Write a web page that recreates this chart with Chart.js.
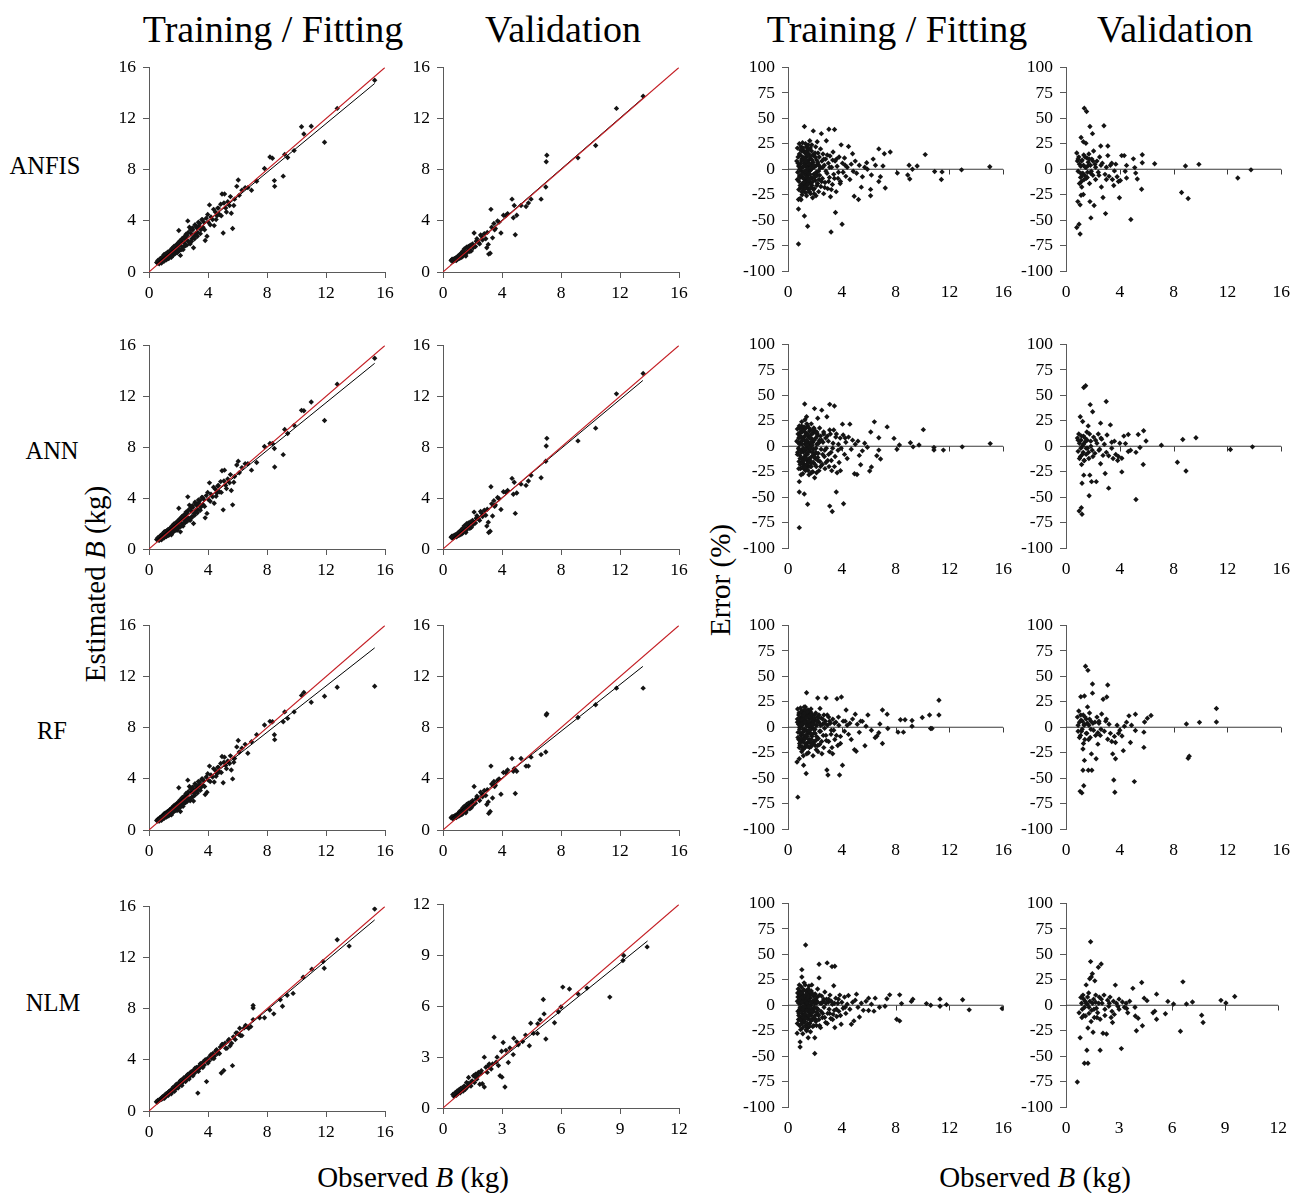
<!DOCTYPE html>
<html>
<head>
<meta charset="utf-8">
<script src="https://cdn.jsdelivr.net/npm/chart.js@4.4.1/dist/chart.umd.min.js"></script>
<style>
html,body{margin:0;padding:0;background:#fff;}
#root{position:relative;width:1309px;height:1193px;overflow:hidden;background:#fff;}
.t{position:absolute;font-family:'Liberation Serif','Times New Roman',serif;color:#000;white-space:nowrap;transform:translate(-50%,-50%);line-height:1;}
.title{font-size:38px;}
.row{font-size:24.5px;}
.ax{font-size:29px;}
.rot{transform:translate(-50%,-50%) rotate(-90deg);}
</style>
</head>
<body>
<div id="root">
  <div class="t title" style="left:273px;top:29px;">Training / Fitting</div>
  <div class="t title" style="left:563px;top:29px;">Validation</div>
  <div class="t title" style="left:897px;top:29px;">Training / Fitting</div>
  <div class="t title" style="left:1175px;top:29px;">Validation</div>
  <div class="t row" style="left:45px;top:166px;">ANFIS</div>
  <div class="t row" style="left:52px;top:451px;">ANN</div>
  <div class="t row" style="left:52px;top:731px;">RF</div>
  <div class="t row" style="left:53px;top:1003px;">NLM</div>
  <div class="t ax rot" style="left:95px;top:584px;">Estimated <i>B</i> (kg)</div>
  <div class="t ax rot" style="left:720px;top:580px;">Error (%)</div>
  <div class="t ax" style="left:413px;top:1177px;">Observed <i>B</i> (kg)</div>
  <div class="t ax" style="left:1035px;top:1177px;">Observed <i>B</i> (kg)</div>
</div>
<script>
// ---------------- DATA ----------------
const scatterTicks16 = [0, 4, 8, 12, 16];
const scatterTicks12 = [0, 3, 6, 9, 12];
const errorTicks = [-100, -75, -50, -25, 0, 25, 50, 75, 100];

// Observed B (kg), training set shared by ANFIS / ANN / RF
const trainObs = [
0.52,0.58,0.63,0.67,0.71,0.74,0.78,0.81,0.83,0.87,0.9,0.92,0.96,0.99,1.01,1.04,1.06,1.09,1.13,1.16,
1.19,1.21,1.24,1.27,1.31,1.33,1.36,1.39,1.43,1.46,1.49,1.52,1.55,1.58,1.61,1.64,1.68,1.71,1.75,1.78,
1.82,1.86,1.9,1.94,1.97,2.02,2.04,2.08,2.13,2.17,2.22,2.27,2.31,2.36,2.42,2.47,2.53,2.58,2.63,2.68,
2.74,2.79,2.86,2.91,2.97,3.02,3.06,3.12,3.18,3.24,
3.31,3.37,3.44,3.52,3.58,3.66,3.72,3.81,3.88,3.93,4.02,4.1,4.2,4.31,4.42,4.5,4.61,4.7,4.78,4.86,
4.95,5.03,5.12,5.2,5.34,5.46,5.58,5.67,5.8,5.95,6.05,6.12,
6.3,6.52,6.7,6.95,7.3,7.83,8.2,8.37,8.5,8.52,9.1,9.2,9.4,9.84,
10.34,10.5,11.0,11.9,12.76,15.3,
0.6,0.69,0.76,0.85,0.94,1.03,1.11,1.18,1.26,1.34,1.41,1.48,1.56,1.63,1.69,1.77,1.84,1.92,1.99,2.06,
2.11,2.19,2.25,2.33,2.39,2.45,2.51,2.56,2.66,2.72,2.83,2.89,2.94,3.09,3.15,3.28,3.35,3.48,3.62,3.77,
3.98,4.15,4.38,4.55,4.66,4.9,5.08,5.25,5.52,5.75];

const anfisTrainEst = [
0.75,0.7,0.85,0.72,0.95,0.8,1.0,0.75,1.1,0.9,1.05,0.82,1.2,1.0,1.35,0.95,1.15,1.4,1.0,1.25,
1.45,1.1,1.35,1.05,1.55,1.25,1.4,1.2,1.65,1.35,1.5,1.15,1.75,1.45,1.6,1.9,1.4,1.8,1.55,2.05,
1.7,1.95,1.5,2.2,1.85,3.25,2.1,1.7,1.3,2.4,2.0,2.6,1.75,2.3,2.7,2.1,2.5,2.85,4.0,2.4,
3.5,2.2,3.0,2.6,3.3,1.9,2.8,3.7,3.0,3.45,
3.1,3.6,3.8,3.3,4.1,3.5,3.9,2.46,4.2,2.8,3.9,5.25,4.3,4.1,3.63,4.7,4.4,5.0,4.5,5.3,
6.1,3.05,6.1,5.0,5.5,5.2,4.6,3.4,5.7,6.7,7.2,6.0,
6.4,6.6,6.6,6.4,7.1,8.1,9.0,8.9,7.15,6.7,7.5,9.2,8.96,9.5,
11.37,10.8,11.4,10.15,12.8,15.0,
0.9,0.65,1.05,0.7,1.2,0.85,1.4,0.95,1.55,1.05,1.65,1.2,1.85,1.3,2.0,1.45,2.1,1.55,2.3,1.7,
2.45,1.75,2.6,1.95,2.75,2.05,2.95,2.1,3.1,2.35,3.3,2.4,3.45,2.6,3.6,2.8,3.9,3.0,4.1,3.3,
4.5,3.7,4.9,4.1,5.0,4.4,5.4,4.7,5.9,5.2];

const annTrainEst = [
0.75,0.72,0.85,0.7,0.95,0.82,1.0,0.78,1.1,0.88,1.05,0.85,1.2,0.98,1.32,0.95,1.15,1.38,1.02,1.25,
1.42,1.1,1.35,1.08,1.52,1.25,1.42,1.18,1.62,1.35,1.48,1.12,1.72,1.45,1.58,1.88,1.42,1.78,1.55,2.02,
1.7,1.95,1.48,2.18,1.85,3.2,2.1,1.72,1.35,2.38,2.0,2.58,1.8,2.3,2.68,2.1,2.48,2.85,4.1,2.4,
3.45,2.25,3.0,2.55,3.28,2.0,2.8,3.68,3.0,3.42,
3.1,3.62,3.8,3.3,4.05,3.5,3.9,2.45,4.2,2.8,3.9,5.2,4.3,4.1,3.6,4.7,4.4,5.0,4.5,5.3,
6.15,3.08,6.2,5.0,5.5,5.2,4.6,3.47,5.7,6.6,6.9,6.0,
6.4,6.7,6.7,6.2,6.8,8.06,8.3,8.3,7.9,6.45,7.42,9.4,9.08,9.72,
10.9,10.87,11.56,10.1,12.96,15.0,
0.88,0.68,1.02,0.72,1.18,0.88,1.36,0.98,1.5,1.08,1.62,1.22,1.8,1.32,1.96,1.48,2.05,1.6,2.25,1.72,
2.4,1.8,2.55,2.0,2.7,2.1,2.9,2.15,3.05,2.4,3.25,2.45,3.4,2.65,3.55,2.85,3.85,3.05,4.05,3.35,
4.45,3.75,4.85,4.15,4.95,4.45,5.35,4.75,5.85,5.25];

const rfTrainEst = [
0.75,0.7,0.82,0.72,0.9,0.8,0.98,0.8,1.05,0.9,1.02,0.88,1.15,1.0,1.25,0.98,1.12,1.32,1.05,1.22,
1.38,1.12,1.3,1.1,1.48,1.28,1.4,1.2,1.58,1.38,1.47,1.18,1.68,1.48,1.57,1.82,1.45,1.75,1.58,1.98,
1.72,1.92,1.52,2.12,1.88,3.3,2.08,1.78,1.45,2.32,2.02,2.55,1.85,2.3,2.62,2.15,2.48,2.8,3.9,2.42,
3.4,2.28,2.95,2.58,3.25,2.26,2.85,3.62,3.02,3.38,
3.15,3.55,3.75,3.32,4.0,3.5,3.85,2.77,4.15,2.95,3.9,5.0,4.3,4.15,3.75,4.65,4.4,4.9,4.55,5.2,
5.75,3.7,5.7,5.05,5.4,5.2,4.7,4.0,5.6,6.5,7.0,6.1,
6.4,6.7,6.0,6.9,7.45,8.22,8.5,8.47,7.45,7.07,8.47,9.24,8.73,9.24,
10.53,10.76,10.0,10.46,11.17,11.25,
0.85,0.7,0.98,0.76,1.12,0.92,1.3,1.02,1.45,1.12,1.58,1.25,1.75,1.38,1.9,1.52,2.0,1.65,2.2,1.78,
2.35,1.85,2.5,2.05,2.65,2.15,2.85,2.2,3.0,2.45,3.2,2.5,3.35,2.7,3.5,2.9,3.8,3.1,4.0,3.4,
4.4,3.8,4.8,4.2,4.9,4.5,5.3,4.8,5.8,5.3];

// Observed B (kg), validation set shared by ANFIS / ANN / RF
const validObs = [
0.55,0.6,0.65,0.7,0.74,0.78,0.82,0.86,0.9,0.95,0.98,1.03,1.08,1.12,1.17,1.22,1.27,1.32,1.38,1.44,
1.5,1.55,1.6,1.66,1.72,1.78,1.85,1.92,2.0,2.11,2.2,2.3,2.42,2.55,2.68,2.8,2.97,3.07,3.1,3.2,
3.25,3.36,3.45,3.55,3.7,3.93,4.1,4.38,4.68,4.77,4.83,4.9,5.0,5.29,5.63,5.79,5.97,6.65,6.97,7.0,
7.04,9.15,10.35,11.76,13.57,
0.62,0.72,0.8,0.88,0.93,1.0,1.06,1.15,1.25,1.35,1.47,1.58,1.7,1.82,1.96,2.05,2.25,2.48,2.62,2.9,
3.0,3.3,3.5,3.8,4.25];

const anfisValidEst = [
0.9,0.95,0.85,1.0,0.9,1.05,0.95,1.1,0.9,1.15,1.0,1.25,1.05,1.35,1.2,1.45,1.15,1.6,1.3,1.8,
1.5,1.25,1.95,1.6,2.0,1.75,2.1,1.65,2.2,3.05,2.0,2.6,2.3,2.9,2.5,3.0,1.9,2.16,1.4,1.47,
4.9,2.67,3.8,3.4,4.0,3.05,4.44,4.57,5.7,4.24,5.2,2.92,4.44,5.2,5.13,5.4,5.7,5.7,6.65,8.63,
9.14,8.93,9.9,12.8,13.76,
1.0,0.85,1.0,0.95,1.1,1.05,1.2,1.1,1.35,1.25,1.55,1.45,1.85,1.6,2.1,1.9,2.4,2.2,2.8,2.6,
3.1,3.5,3.3,3.9,4.4];

const annValidEst = [
0.92,0.98,0.88,1.02,0.92,1.08,0.98,1.12,0.95,1.18,1.02,1.28,1.08,1.38,1.22,1.48,1.18,1.62,1.35,1.82,
1.52,1.3,1.98,1.65,2.05,1.78,2.12,1.7,2.25,2.9,2.05,2.62,2.35,2.95,2.55,3.05,1.8,2.1,1.3,1.4,
4.9,2.6,3.8,3.45,4.05,3.1,4.5,4.6,5.55,4.3,5.25,2.8,4.4,5.1,5.0,5.35,5.8,5.6,6.9,8.1,
8.7,8.5,9.5,12.2,13.8,
1.0,0.88,1.02,0.98,1.12,1.08,1.22,1.12,1.38,1.28,1.58,1.48,1.88,1.62,2.12,1.92,2.42,2.25,2.82,2.65,
3.12,3.55,3.35,3.95,4.45];

const rfValidEst = [
0.95,1.0,0.9,1.05,0.95,1.1,1.0,1.15,0.98,1.2,1.05,1.3,1.1,1.45,1.25,1.5,1.2,1.7,1.4,1.85,
1.6,1.35,2.0,1.7,2.1,1.85,2.15,1.75,2.3,3.4,2.1,2.65,2.4,2.95,2.6,3.1,2.0,2.2,1.3,1.45,
5.0,2.5,3.8,3.5,3.9,2.8,4.5,4.7,5.6,4.6,4.8,2.85,4.6,5.6,5.0,5.0,5.7,5.9,6.1,9.0,
9.1,8.8,9.8,11.1,11.1,
1.05,0.9,1.05,1.0,1.15,1.1,1.25,1.15,1.4,1.3,1.6,1.5,1.9,1.65,2.15,1.95,2.45,2.3,2.85,2.7,
3.15,3.6,3.4,4.0,4.5];

// NLM data sets
const nlmTrainObs = [
0.5,0.56,0.59,0.66,0.71,0.73,0.79,0.84,0.86,0.92,0.95,1.0,1.02,1.08,1.12,1.14,1.2,1.24,1.26,1.33,
1.35,1.41,1.45,1.47,1.54,1.58,1.61,1.67,1.7,1.76,1.81,1.84,1.91,1.94,2.01,2.06,2.09,2.16,2.21,2.25,
2.33,2.37,2.45,2.51,2.55,2.63,2.67,2.76,2.81,2.89,2.94,3.03,3.08,3.17,3.22,3.26,3.31,3.39,3.44,3.53,
3.59,3.69,3.75,3.85,3.9,
3.97,4.06,4.15,4.26,4.33,4.45,4.52,4.64,4.71,4.83,4.9,4.98,5.07,5.15,5.28,5.37,5.5,5.66,5.72,5.85,
5.97,6.08,6.15,6.3,6.45,6.62,6.76,
7.06,7.06,7.06,7.83,8.19,8.46,9.05,9.37,9.77,10.45,11.04,11.8,11.88,12.76,13.57,15.3,
0.62,0.77,0.9,1.05,1.17,1.29,1.38,1.51,1.64,1.73,1.87,1.97,2.12,2.23,2.35,2.48,2.59,2.72,2.85,2.98,
3.12,3.35,3.48,3.65,3.8,4.0,4.2,4.4,4.58,4.78,4.95,5.2,5.42,5.6,5.9,6.2,6.55,6.9,7.5,8.9];

const nlmTrainEst = [
0.72,0.7,0.82,0.8,0.9,0.85,0.95,1.0,0.92,1.1,1.0,1.15,1.05,1.25,1.15,1.3,1.2,1.4,1.3,1.5,
1.4,1.55,1.45,1.6,1.5,1.75,1.6,1.85,1.65,1.95,1.75,2.05,1.85,2.1,1.95,2.25,2.05,2.4,2.15,2.45,
2.3,2.6,2.4,2.7,2.5,2.85,2.6,2.95,2.75,3.05,2.85,3.2,2.95,3.3,3.4,3.15,1.4,3.5,3.35,3.7,
3.5,3.85,3.6,4.0,2.3,
4.1,3.9,4.3,4.1,4.5,4.3,4.7,4.5,4.55,5.0,2.97,5.2,3.17,5.3,4.9,5.5,5.1,3.55,5.8,5.6,
6.1,6.0,6.47,5.9,6.5,6.6,6.47,
8.25,8.05,7.15,7.3,7.9,7.6,8.2,9.06,9.2,10.46,11.1,11.7,11.17,13.4,12.9,15.8,
0.8,0.9,1.1,1.0,1.35,1.2,1.55,1.35,1.85,1.55,2.1,1.8,2.35,2.0,2.55,2.3,2.8,2.5,3.05,2.75,
3.35,3.1,3.7,3.4,4.0,3.75,4.4,4.1,4.8,4.5,5.2,4.9,5.6,5.3,6.1,5.9,6.7,6.6,7.3,8.7];

const nlmValidObs = [
0.5,0.55,0.62,0.68,0.72,0.78,0.83,0.88,0.93,0.98,1.03,1.08,1.14,1.2,1.25,1.3,1.36,1.42,1.48,1.55,
1.6,1.66,1.72,1.8,1.87,1.95,2.0,2.1,2.1,2.18,2.25,2.35,2.45,2.6,2.7,2.82,2.9,2.98,3.0,3.06,
3.15,3.32,3.4,3.57,3.6,3.83,4.05,4.39,4.46,4.6,4.8,4.82,4.94,5.1,5.14,5.23,5.67,5.87,6.0,6.09,
6.43,6.86,7.32,8.48,9.15,9.19,10.38,
0.58,0.75,0.9,1.12,1.28,1.45,1.62,1.78,1.92,2.3,2.52,2.75,3.2,3.75,4.2];

const nlmValidEst = [
0.8,0.7,0.9,0.75,1.0,0.85,1.1,0.9,1.05,1.2,1.0,1.3,1.1,1.5,1.25,1.8,1.4,1.3,1.6,1.9,
1.5,2.0,1.7,2.1,1.4,2.2,1.43,3.0,1.24,2.4,2.1,2.6,2.3,4.17,2.7,2.5,1.9,3.35,1.82,3.86,
1.24,2.68,3.54,3.15,4.11,3.73,3.92,3.67,5.0,4.4,4.4,4.97,5.2,6.4,5.55,4.07,5.03,5.68,5.96,7.13,
7.02,6.73,7.07,6.54,8.7,8.99,9.5,
0.85,0.95,1.15,1.2,1.45,1.55,1.85,1.9,2.05,2.5,2.6,3.0,3.4,3.9,4.3];

// Fitted (black) regression lines, 1:1 (red) lines and zero-error lines: [x, y] end points
const anfisTrainFit = [[0.5,0.65],[15.3,14.75]];
const anfisValidFit = [[0.5,0.55],[13.55,13.6]];
const annTrainFit = [[0.5,0.7],[15.3,14.6]];
const annValidFit = [[0.55,0.7],[13.55,13.25]];
const rfTrainFit = [[0.5,0.85],[15.3,14.25]];
const rfValidFit = [[0.55,0.9],[13.55,12.8]];
const nlmTrainFit = [[0.5,0.65],[15.3,14.95]];
const nlmValidFit = [[0.5,0.6],[10.4,9.85]];
const oneToOne16 = [[0,0],[16,16]];
const oneToOne12 = [[0,0],[12,12]];
const zeroLine16 = [[0,0],[16,0]];
const zeroLine12 = [[0,0],[12,0]];

// Error (%) vs observed B (kg): [observed, error]
const anfisTrainErr = [[0.65,8],[0.7,20.8],[0.72,-3],[0.75,12],[0.78,-29.7],[0.78,-39],[0.78,-73.5],[0.8,3],[0.82,-12],[0.85,15],[0.88,-6],[0.9,-28.8],[0.92,5],[0.95,-18],[0.98,22],[1.0,-2],[1.02,10],[1.05,-25],[1.08,26],[1.1,-8],[1.12,2],[1.15,-15],[1.18,18],[1.2,-22],[1.22,42],[1.22,-46],[1.25,6],[1.28,-10],[1.3,25],[1.32,-4],[1.35,12],[1.38,-26],[1.4,3],[1.42,-14],[1.45,20],[1.46,-56],[1.48,-6],[1.5,9],[1.52,-20],[1.55,15],[1.58,-2],[1.6,-12],[1.62,28],[1.65,4],[1.68,-24],[1.7,10],[1.72,-8],[1.75,18],[1.78,-16],[1.8,1],[1.83,-28],[1.86,7],[1.88,37.7],[1.9,-5],[1.93,14],[1.96,-19],[2.0,3],[2.03,-11],[2.06,22],[2.1,-3],[2.13,9],[2.17,27],[2.2,-14],[2.24,5],[2.28,-22],[2.32,12],[2.36,-6],[2.4,1],[2.44,-17],[2.48,35],[2.52,8],[2.56,-9],[2.6,15],[2.65,-24],[2.7,4],[2.75,-13],[2.8,10],[2.85,28],[2.9,-4],[2.95,-19],[3.0,6],[3.04,39.3],[3.08,-8],[3.12,13],[3.16,-27],[3.2,-61.7],[3.24,2],[3.3,-15],[3.35,17],[3.4,-5],[3.46,39],[3.5,8],[3.53,-42.5],[3.58,-22],[3.65,3],[3.72,-9],[3.8,12],[3.88,-14],[3.95,24],[4.02,-54],[4.05,6],[4.1,-3],[4.2,11],[4.3,-7],[4.4,2],[4.5,22.4],[4.6,-10],[4.7,5],[4.8,15.3],[4.85,-2],[4.92,-26.5],[5.0,8],[5.1,-4],[5.24,-29.7],[5.3,4],[5.45,-17.6],[5.53,-7.3],[5.7,2],[5.85,6.4],[5.9,0],[6.14,-19.8],[6.14,-26],[6.2,-5.7],[6.33,10],[6.5,4],[6.75,20],[6.75,-12],[6.87,-7.3],[7.06,3.2],[7.16,15.3],[7.23,-18.5],[7.6,17],[8.13,-3.8],[8.9,-5.7],[9.0,4],[9.05,-9.6],[9.25,0],[9.6,3.2],[10.2,14.4],[10.9,-2.2],[11.4,-10],[11.45,-2.6],[12.9,-0.6],[15.0,2.5],
[0.7,-10],[0.74,6],[0.8,-20],[0.84,25],[0.87,0],[0.9,14],[0.94,-8],[0.97,-30],[1.0,8],[1.04,18],[1.07,-14],[1.1,12],[1.13,-3],[1.17,-20],[1.2,6],[1.24,-12],[1.27,16],[1.3,-6],[1.34,3],[1.37,22],[1.4,-18],[1.44,8],[1.47,-11],[1.5,24],[1.54,-4],[1.57,6],[1.6,-22],[1.64,12],[1.67,-1],[1.71,-14],[1.74,5],[1.77,24],[1.81,-9],[1.85,14],[1.89,-20],[1.92,2],[1.98,-8],[2.02,12],[2.08,-26],[2.12,4],[2.18,-6],[2.23,16],[2.3,-10],[2.35,3],[2.42,20],[2.5,-12],[2.58,2],[2.66,10],[2.73,-18],[2.82,-2],[2.92,14],[3.02,-12],[3.1,2],[3.22,-20],[3.32,9],[3.45,-9],[3.6,10],[3.75,-3],[3.9,-12],[4.25,4],
[0.82,4],[0.86,-7],[0.9,-16],[0.93,19],[0.97,1],[1.01,-22],[1.03,-5],[1.06,9],[1.09,-18],[1.11,21],[1.14,-9],[1.16,3],[1.19,-13],[1.23,11],[1.26,-2],[1.29,-17],[1.31,8],[1.33,-23],[1.36,17],[1.39,-1],[1.41,-8],[1.43,14],[1.46,1],[1.49,-15],[1.53,19],[1.56,-10],[1.59,5],[1.63,-5],[1.66,21],[1.69,-18],[1.73,2],[1.79,9],[1.84,-12],[1.91,4],[1.95,-24],[2.01,16],[2.07,-4],[2.14,-16],[2.21,7],[2.27,-2]];

const annTrainErr = [[0.65,5],[0.7,17],[0.72,-6],[0.75,12],[0.78,-2],[0.8,8],[0.82,-15],[0.84,-34.8],[0.84,-45],[0.84,-80],[0.86,18],[0.88,-9],[0.9,4],[0.93,-22],[0.96,14],[0.99,-4],[1.02,24],[1.05,-12],[1.08,6],[1.1,-27],[1.12,16],[1.15,-6],[1.18,9],[1.21,-47],[1.22,-18],[1.24,41.5],[1.26,26],[1.28,2],[1.3,-24],[1.33,12],[1.36,-8],[1.38,29],[1.4,-14],[1.43,5],[1.46,-57],[1.46,20],[1.48,-20],[1.5,-2],[1.53,10],[1.56,-28],[1.6,15],[1.63,-5],[1.66,3],[1.7,-17],[1.73,22],[1.76,-10],[1.8,7],[1.84,-25],[1.87,13],[1.9,-3],[1.94,17],[1.97,37],[1.98,-31],[2.02,-12],[2.06,8],[2.1,-20],[2.14,2],[2.18,12],[2.21,27.5],[2.25,-7],[2.3,-24],[2.34,6],[2.38,-15],[2.42,10],[2.46,-3],[2.51,35.5],[2.55,-18],[2.6,4],[2.65,14],[2.7,-10],[2.75,-22],[2.8,8],[2.85,-2],[2.89,29],[2.95,-14],[3.0,5],[3.05,-20],[3.1,41.2],[3.1,-58.8],[3.15,12],[3.2,-6],[3.25,-24],[3.29,-64.2],[3.35,3],[3.4,16],[3.45,39.6],[3.5,-10],[3.55,9],[3.59,-45],[3.65,-26],[3.72,-4],[3.8,-16],[3.88,8],[3.95,-2],[4.05,21.7],[4.1,11],[4.13,-56.5],[4.2,-8],[4.3,4],[4.4,-12],[4.5,9],[4.6,21.7],[4.7,-3],[4.8,6],[4.94,-27],[5.0,2],[5.13,-27.8],[5.2,5],[5.3,-9],[5.4,-18.2],[5.53,-4.5],[5.7,3],[5.9,-1],[6.07,-24.3],[6.15,14],[6.2,-20.4],[6.42,24],[6.6,-9.3],[6.75,8.3],[6.75,-3.8],[6.88,-12.5],[7.37,19],[7.88,7.7],[8.1,-2.9],[8.28,1.3],[9.1,3.5],[9.3,-0.6],[9.74,1.3],[10.06,16.3],[10.85,-1.3],[10.85,-3.8],[11.55,-3.8],[12.95,-0.6],[15.03,2.6],
[0.7,-8],[0.74,4],[0.8,-22],[0.84,20],[0.87,2],[0.9,-12],[0.94,10],[0.97,-28],[1.0,8],[1.04,14],[1.07,-16],[1.1,18],[1.13,-2],[1.17,-22],[1.2,6],[1.24,-10],[1.27,14],[1.3,-4],[1.34,4],[1.37,-18],[1.4,22],[1.44,-8],[1.47,10],[1.5,-24],[1.54,2],[1.57,-12],[1.6,8],[1.64,-20],[1.67,16],[1.71,-2],[1.74,-26],[1.77,12],[1.81,-6],[1.85,4],[1.89,-16],[1.92,18],[1.98,-8],[2.02,14],[2.08,-2],[2.12,-26],[2.18,10],[2.23,-14],[2.3,4],[2.35,18],[2.42,-20],[2.5,6],[2.58,-8],[2.66,12],[2.73,-4],[2.82,-16],[2.92,10],[3.02,-8],[3.1,16],[3.22,-14],[3.32,-2],[3.45,-20],[3.6,12],[3.75,2],[3.9,-24],[4.25,8],
[0.82,-3],[0.86,9],[0.9,-18],[0.93,14],[0.97,-6],[1.01,20],[1.03,-12],[1.06,2],[1.09,16],[1.11,-20],[1.14,7],[1.16,-14],[1.19,19],[1.23,-4],[1.26,-21],[1.29,10],[1.31,-2],[1.33,18],[1.36,-12],[1.39,6],[1.41,-23],[1.43,1],[1.46,12],[1.49,-6],[1.53,-16],[1.56,18],[1.59,-1],[1.63,9],[1.66,-14],[1.69,4],[1.73,-20],[1.79,1],[1.84,16],[1.91,-10],[1.95,6],[2.01,-18],[2.07,-6],[2.14,14],[2.21,-11],[2.27,3]];

const rfTrainErr = [[0.67,-34.2],[0.7,8],[0.72,18],[0.73,-68.7],[0.75,-5],[0.78,3],[0.8,-12],[0.82,14],[0.84,-31],[0.86,-2],[0.88,6],[0.9,-18],[0.93,19],[0.96,-8],[0.99,10],[1.02,-24],[1.05,2],[1.08,13],[1.1,-14],[1.12,7],[1.14,-28],[1.16,-37.4],[1.18,16],[1.2,-4],[1.23,9],[1.26,-20],[1.29,20],[1.32,-10],[1.35,-45.4],[1.36,4],[1.38,33.9],[1.4,-16],[1.43,11],[1.46,-6],[1.49,17],[1.52,-25],[1.55,1],[1.58,-12],[1.62,8],[1.65,-3],[1.68,15],[1.72,-19],[1.75,5],[1.78,-9],[1.82,12],[1.86,-28],[1.9,3],[1.94,-14],[1.98,7],[2.02,-6],[2.06,14],[2.1,-22],[2.15,2],[2.2,10],[2.21,28.8],[2.26,-11],[2.3,5],[2.35,-17],[2.38,18.5],[2.42,-4],[2.47,9],[2.52,-26],[2.57,3],[2.62,-8],[2.67,12],[2.72,-1],[2.78,6],[2.83,28.8],[2.85,-13],[2.89,-42],[2.93,2],[2.97,-47],[3.02,10],[3.08,-24],[3.14,4],[3.2,-7],[3.27,-20],[3.33,8],[3.4,-3],[3.48,-12],[3.56,5],[3.64,28],[3.7,-18],[3.78,2],[3.83,-47],[3.9,-9],[3.97,29.7],[4.05,-37.4],[4.1,6],[4.2,-4],[4.32,17],[4.4,2],[4.5,-7],[4.6,4],[4.7,-12],[4.8,8],[4.94,-22],[5.0,12.8],[5.07,-23.6],[5.15,3],[5.3,-5],[5.4,6],[5.53,5.8],[5.72,-18.2],[5.8,1],[5.94,12.1],[6.2,-3],[6.48,-10.2],[6.61,-8.6],[6.75,-5.4],[6.83,3.2],[7.02,17],[7.02,-16],[7.37,12.8],[7.42,-1.3],[8.18,-4.8],[8.36,7.3],[8.58,-4.8],[8.7,7.3],[9.22,6.7],[9.22,1],[9.98,9.6],[10.52,12],[10.6,-1.3],[10.7,-1.3],[11.22,26.5],[11.22,12],
[0.7,5],[0.74,-10],[0.8,12],[0.84,-20],[0.87,0],[0.9,8],[0.94,-14],[0.97,4],[1.0,-6],[1.04,16],[1.07,-22],[1.1,3],[1.13,10],[1.17,-12],[1.2,20],[1.24,-2],[1.27,-16],[1.3,6],[1.34,-8],[1.37,12],[1.4,-26],[1.44,2],[1.47,-4],[1.5,14],[1.54,-14],[1.57,4],[1.6,-20],[1.64,10],[1.67,-6],[1.71,18],[1.74,-12],[1.77,0],[1.81,8],[1.85,-16],[1.89,5],[1.92,-2],[1.98,12],[2.02,-18],[2.08,2],[2.12,-9],[2.18,6],[2.23,-24],[2.3,12],[2.35,-4],[2.42,2],[2.5,-14],[2.58,8],[2.66,-20],[2.73,4],[2.82,-8],[2.92,12],[3.02,-14],[3.1,6],[3.22,-3],[3.32,-26],[3.45,4],[3.6,-8],[3.75,10],[3.9,-16],[4.25,6],
[0.82,8],[0.86,-16],[0.9,2],[0.93,-6],[0.97,15],[1.01,-11],[1.03,7],[1.06,-19],[1.09,4],[1.11,-2],[1.14,12],[1.16,-8],[1.19,-21],[1.23,14],[1.26,5],[1.29,-11],[1.31,17],[1.33,-3],[1.36,-18],[1.39,9],[1.41,1],[1.43,-9],[1.46,15],[1.49,-19],[1.53,6],[1.56,-3],[1.59,11],[1.63,-15],[1.66,2],[1.69,-7],[1.73,13],[1.79,-17],[1.84,3],[1.91,-6],[1.95,9],[2.01,-2],[2.07,-13],[2.14,6],[2.21,-18],[2.27,9]];

const nlmTrainErr = [[0.68,-27.5],[0.7,4],[0.72,12],[0.74,-6],[0.76,16],[0.78,-14],[0.8,2],[0.83,9],[0.86,-20],[0.88,14],[0.9,-36],[0.9,-41],[0.92,-4],[0.95,6],[0.98,-12],[1.0,18],[1.03,35],[1.03,27.8],[1.05,-8],[1.08,3],[1.1,-22],[1.12,10],[1.15,-2],[1.18,15],[1.2,-16],[1.22,5],[1.25,-9],[1.28,20],[1.31,59.2],[1.32,-4],[1.35,8],[1.38,-25],[1.4,1],[1.43,12],[1.46,-13],[1.5,-32],[1.5,4],[1.53,-7],[1.56,19],[1.6,-1],[1.63,-18],[1.66,7],[1.7,-10],[1.73,14],[1.77,-4],[1.8,3],[1.84,-21],[1.88,9],[1.92,-6],[1.96,2],[1.99,-47.4],[1.99,-32],[2.02,11],[2.06,-14],[2.1,5],[2.15,-3],[2.2,16],[2.25,-9],[2.31,40.3],[2.31,26.9],[2.35,-20],[2.4,2],[2.45,-6],[2.5,9],[2.56,-12],[2.62,4],[2.68,-2],[2.74,13],[2.8,-17],[2.86,6],[2.91,41.6],[2.95,-8],[3.0,3],[3.06,-4],[3.12,10],[3.18,-13],[3.27,38],[3.3,1],[3.36,-9],[3.4,19.2],[3.44,-5],[3.48,38.4],[3.48,-21.8],[3.55,7],[3.62,-11],[3.7,2],[3.78,-6],[3.85,10],[3.95,-18.6],[4.0,3],[4.1,-3],[4.2,8],[4.3,-8],[4.4,1],[4.49,9.6],[4.6,-4],[4.71,-18.6],[4.8,3],[4.9,-15.4],[5.0,5],[5.09,10.9],[5.2,-2],[5.31,-11.5],[5.45,2],[5.6,-5],[5.8,4],[5.99,-5.1],[5.99,7],[6.2,1],[6.39,-5.8],[6.48,7],[6.8,-2],[7.21,-1],[7.35,6.4],[7.56,10.2],[8.08,-13.8],[8.3,10.2],[8.3,-15.4],[8.44,1.6],[9.17,3.8],[9.28,6],[10.29,1.6],[10.61,0],[11.3,6],[11.3,-1],[11.78,0.6],[12.98,5.4],[13.47,-4.5],[15.92,-3.2],
[0.7,-18],[0.74,8],[0.8,-10],[0.84,20],[0.87,-4],[0.9,10],[0.94,-24],[0.97,2],[1.0,-14],[1.04,12],[1.07,-2],[1.1,-28],[1.13,6],[1.17,-10],[1.2,22],[1.24,-6],[1.27,2],[1.3,-20],[1.34,14],[1.37,-2],[1.4,-12],[1.44,6],[1.47,-22],[1.5,16],[1.54,-4],[1.57,4],[1.6,-14],[1.64,10],[1.67,-26],[1.71,0],[1.74,-8],[1.77,20],[1.81,-14],[1.85,4],[1.89,-4],[1.92,-20],[1.98,10],[2.02,-10],[2.08,2],[2.12,-20],[2.18,8],[2.23,-4],[2.3,-14],[2.35,10],[2.42,-22],[2.5,2],[2.58,-8],[2.66,6],[2.73,-12],[2.82,2],[2.92,-18],[3.02,6],[3.1,-8],[3.22,4],[3.32,-14],[3.45,2],[3.6,-4],[3.75,6],[3.9,-10],[4.25,-2],
[0.82,-8],[0.86,5],[0.9,-2],[0.93,-15],[0.97,12],[1.01,-6],[1.03,3],[1.06,-18],[1.09,8],[1.11,-4],[1.14,-12],[1.16,15],[1.19,-1],[1.23,-16],[1.26,9],[1.29,-9],[1.31,4],[1.33,-13],[1.36,-24],[1.39,11],[1.41,-5],[1.43,2],[1.46,-18],[1.49,8],[1.53,-10],[1.56,-1],[1.59,-21],[1.63,13],[1.66,-6],[1.69,3],[1.73,-15],[1.79,-6],[1.84,11],[1.91,-12],[1.95,-2],[2.01,6],[2.07,-16],[2.14,-7],[2.21,3],[2.27,-10]];

const anfisValidErr = [[0.8,15.9],[0.8,-57.3],[0.85,8],[0.88,-31.8],[0.9,-2],[0.95,12],[0.97,-54.1],[1.0,5],[1.05,-63.7],[1.05,-35],[1.08,-8],[1.1,3],[1.12,31.2],[1.12,-25.5],[1.15,-12],[1.17,-17.5],[1.2,9],[1.25,-4],[1.29,27],[1.29,-24.8],[1.32,14],[1.36,59.9],[1.4,-6],[1.44,2],[1.48,25.5],[1.5,-9],[1.53,56.7],[1.56,11],[1.6,-3],[1.65,7],[1.7,15],[1.75,-14],[1.78,42],[1.78,-31.8],[1.82,4],[1.85,-47.8],[1.88,-2],[1.92,10],[1.97,35],[2.0,-6],[2.05,18],[2.09,-35.7],[2.15,5],[2.2,-10],[2.3,8],[2.4,-3],[2.5,12],[2.58,22.9],[2.63,-17.5],[2.7,6],[2.75,-27.7],[2.82,42.7],[2.9,-5],[2.94,-43.6],[3.0,2],[3.11,22.9],[3.11,13.4],[3.2,-7],[3.3,4],[3.45,-10],[3.55,-15.9],[3.6,-1.6],[3.7,5],[3.8,-7.3],[3.97,-28],[4.04,-11.1],[4.14,13.4],[4.33,13.4],[4.4,-2],[4.5,3.8],[4.5,-8.6],[4.82,-49.4],[5.01,10.2],[5.11,1.6],[5.18,-3.8],[5.3,-9.6],[5.62,-19.7],[5.67,14.3],[5.67,6.4],[6.59,5.4],[8.59,-22.9],[8.88,3.2],[9.08,-28.7],[9.88,4.8],[12.77,-8.6],[13.75,-0.6],
[0.9,10],[1.0,-14],[1.1,-4],[1.15,8],[1.22,-6],[1.3,4],[1.35,-10],[1.42,12],[1.5,2],[1.58,-8],[1.68,4],[1.75,10],[1.85,-4],[2.0,8],[2.2,2],[2.45,-6],[2.6,4],[3.0,-10],[3.4,6],[3.9,-12]];

const annValidErr = [[0.85,8],[0.9,-5],[0.95,12],[0.98,-63.6],[1.0,3],[1.06,29],[1.08,-10],[1.12,6],[1.14,-60.4],[1.16,-18],[1.19,-36.4],[1.19,-66.8],[1.22,0],[1.24,24.3],[1.28,-6],[1.3,10],[1.32,57.8],[1.32,-28.4],[1.36,-14],[1.4,4],[1.46,59.4],[1.5,-8],[1.55,14],[1.6,-2],[1.65,20],[1.7,-12],[1.72,-48.6],[1.77,-28.4],[1.8,40.9],[1.84,5],[1.9,-34.8],[1.95,-4],[1.98,33.9],[2.05,9],[2.15,-7],[2.25,-34.8],[2.3,3],[2.4,12],[2.5,-3],[2.57,22.7],[2.57,-17.2],[2.65,7],[2.75,-9],[2.85,2],[2.91,-26.8],[2.99,44],[3.05,11],[3.17,-9.3],[3.17,-41.2],[3.3,21],[3.4,-2],[3.5,-12],[3.6,5],[3.7,-8],[3.84,-14],[4.0,3],[4.15,-11.8],[4.15,-25.2],[4.3,10],[4.42,2.6],[4.63,-5.1],[4.63,11.5],[4.8,-4],[5.2,-6],[5.2,-52.4],[5.37,11.5],[5.5,-1.3],[5.74,-17.9],[5.77,15.3],[5.95,5.1],[7.09,1],[8.28,-15.7],[8.68,6.7],[8.92,-24.3],[9.66,8.3],[12.22,-3.2],[13.86,-0.6],
[0.9,6],[1.0,-12],[1.1,-2],[1.15,10],[1.22,-8],[1.3,2],[1.35,-14],[1.42,8],[1.5,-2],[1.58,6],[1.68,-6],[1.75,12],[1.85,0],[2.0,-10],[2.2,6],[2.45,-4],[2.6,8],[3.0,-6],[3.4,4],[3.9,-10]];

const rfValidErr = [[0.85,10],[0.9,-4],[0.95,16],[1.0,5],[1.05,-63],[1.08,-8],[1.1,30],[1.12,7],[1.18,-64.5],[1.2,-2],[1.26,-42.2],[1.26,-21.4],[1.28,12],[1.32,-57.5],[1.35,3],[1.37,30.7],[1.37,-32.6],[1.4,-12],[1.45,60],[1.5,8],[1.55,-6],[1.6,20],[1.63,55.9],[1.66,-42.2],[1.7,2],[1.75,14],[1.8,-10],[1.85,6],[1.89,-26.2],[1.92,-42.2],[1.97,42.5],[1.97,33.5],[2.05,-3],[2.15,5],[2.24,-31],[2.3,10],[2.37,-5.4],[2.37,-16.6],[2.45,4],[2.55,-8],[2.65,13],[2.76,27.5],[2.85,-4],[2.95,6],[3.03,29.7],[3.1,41.5],[3.1,-11.8],[3.2,3],[3.3,-6],[3.47,-26.2],[3.55,-51.8],[3.6,-9],[3.63,-63.9],[3.68,-15],[3.68,-31],[3.8,2],[4.0,-3],[4.16,-8.6],[4.26,-23],[4.34,1],[4.5,5],[4.68,11.2],[4.79,-15],[4.87,1.9],[5.08,-53.4],[5.16,12.8],[5.16,-3.2],[5.79,-19.8],[5.79,-4.8],[5.84,5.1],[6.05,8.9],[6.32,11.5],[8.95,3.2],[9.08,-30.4],[9.16,-28.4],[9.92,4.8],[11.18,18.5],[11.18,5.1],
[0.9,2],[1.0,-10],[1.1,12],[1.15,-4],[1.22,6],[1.3,-16],[1.35,2],[1.42,10],[1.5,-6],[1.58,4],[1.68,-12],[1.75,8],[1.85,-2],[2.0,4],[2.2,-8],[2.45,6],[2.6,-2],[3.0,8],[3.4,-14],[3.9,-6]];

const nlmValidErr = [[0.64,-75.5],[0.74,-7.4],[0.8,-32],[0.84,7.7],[0.88,2],[0.92,-4],[0.96,10],[1.0,-10],[1.04,-57],[1.08,4],[1.1,-10.6],[1.14,20],[1.18,-44.2],[1.2,1],[1.24,-22.4],[1.24,-57],[1.28,12],[1.3,-2],[1.34,26],[1.39,42.9],[1.39,62.4],[1.43,27.8],[1.45,-5],[1.49,31],[1.53,-26.6],[1.56,6],[1.6,-12],[1.63,24],[1.68,3],[1.72,-3],[1.79,-7.4],[1.83,37.4],[1.88,8],[1.93,-13.8],[1.93,-44.2],[1.99,40.6],[2.04,2],[2.09,-27.5],[2.15,10],[2.2,-4],[2.29,-28.2],[2.35,5],[2.42,-1],[2.49,8],[2.55,-12],[2.63,-17],[2.68,4],[2.73,-9],[2.79,19.8],[2.85,2],[2.93,-1],[3.0,6],[3.13,-42.6],[3.19,3.2],[3.3,-2],[3.43,-3.2],[3.49,-7.4],[3.6,4],[3.78,16.6],[3.92,-10.6],[3.98,-25],[4.08,-12.8],[4.28,22.4],[4.32,-20.2],[4.42,7],[4.58,4.5],[4.92,-7.4],[5.02,-5.8],[5.12,10.9],[5.12,-13.8],[5.62,-8.3],[5.76,3.8],[6.08,1.3],[6.47,-25.6],[6.61,23],[6.81,1.3],[7.15,3.2],[7.67,-9.9],[7.75,-17],[8.76,4.8],[9.04,2.2],[9.54,8.6],
[0.9,-12],[1.0,6],[1.05,-2],[1.15,2],[1.22,8],[1.3,-8],[1.35,4],[1.42,-16],[1.5,2],[1.58,-4],[1.68,10],[1.75,-12],[1.85,2],[2.0,6],[2.2,-10],[2.45,2],[2.6,-6],[3.0,-4],[3.4,2],[3.9,-2]];

// ---------------- RENDER ----------------
const SERIF = "'Liberation Serif', 'Times New Roman', serif";
Chart.defaults.font.family = SERIF;
Chart.defaults.color = '#000';
const AXIS = '#5a5a5a';
const PADL = 52, PADT = 12, PADR = 16, PADB = 34;
const TICKFONT = {family: SERIF, size: 17.5};
const root = document.getElementById('root');

const zeroAxisPlugin = {
  id: 'zeroAxis',
  beforeDatasetsDraw(chart, args, opts) {
    if (!opts || !opts.on) return;
    const xs = chart.scales.x, ys = chart.scales.y, ctx = chart.ctx;
    const py = Math.round(ys.getPixelForValue(0)) + 0.5;
    ctx.save();
    ctx.strokeStyle = '#3a3a3a';
    ctx.lineWidth = 1;
    ctx.beginPath();
    xs.ticks.forEach(t => {
      const px = Math.round(xs.getPixelForValue(t.value)) + 0.5;
      if (t.value > 0) { ctx.moveTo(px, py); ctx.lineTo(px, py + 5); }
    });
    ctx.stroke();
    ctx.restore();
  }
};
Chart.register(zeroAxisPlugin);

const toPts = (xs, ys) => xs.map((x, i) => ({x: x, y: ys[i]}));
const pairPts = arr => arr.map(p => ({x: p[0], y: p[1]}));

function addPanel(rect, o) {
  const L = rect[0], R = rect[1], T = rect[2], B = rect[3];
  const w = R - L + PADL + PADR, h = B - T + PADT + PADB;
  const c = document.createElement('canvas');
  c.width = w; c.height = h;
  c.style.cssText = 'position:absolute;left:' + (L - PADL) + 'px;top:' + (T - PADT) + 'px;width:' + w + 'px;height:' + h + 'px;';
  root.appendChild(c);
  const ds = [{
    type: 'scatter', data: o.points, pointStyle: 'rectRot', pointRadius: 2.7,
    pointBackgroundColor: '#141414', pointBorderWidth: 0, showLine: false, order: 3
  }];
  if (o.fit) ds.push({type: 'line', data: pairPts(o.fit), borderColor: '#000', borderWidth: 1, pointRadius: 0, order: 2});
  if (o.identity) ds.push({type: 'line', data: pairPts(o.identity), borderColor: '#c41e24', borderWidth: 1.1, pointRadius: 0, order: 1});
  if (o.zero) ds.push({type: 'line', data: pairPts(o.zero), borderColor: '#3a3a3a', borderWidth: 1.2, pointRadius: 0, order: 4});
  const isErr = !!o.zero;
  new Chart(c, {
    type: 'scatter',
    data: {datasets: ds},
    options: {
      responsive: false, animation: false, devicePixelRatio: 1,
      font: {family: SERIF},
      layout: {padding: {left: 0, top: PADT, right: PADR, bottom: 0}},
      plugins: {legend: {display: false}, tooltip: {enabled: false}, zeroAxis: {on: isErr}},
      scales: {
        x: {
          type: 'linear', min: 0, max: o.xTicks[o.xTicks.length - 1],
          afterBuildTicks(s) { s.ticks = o.xTicks.map(v => ({value: v})); },
          ticks: {font: TICKFONT, color: '#000', padding: isErr ? 11 : 5, maxRotation: 0, autoSkip: false},
          grid: {display: true, drawOnChartArea: false, drawTicks: !isErr, tickLength: 6, color: AXIS, lineWidth: 1},
          border: {display: !isErr, color: AXIS, width: 1},
          afterFit(s) { s.height = PADB; }
        },
        y: {
          type: 'linear', min: o.yTicks[0], max: o.yTicks[o.yTicks.length - 1],
          afterBuildTicks(s) { s.ticks = o.yTicks.map(v => ({value: v})); },
          ticks: {font: TICKFONT, color: '#000', padding: 7, autoSkip: false},
          grid: {display: true, drawOnChartArea: false, drawTicks: true, tickLength: 6, color: AXIS, lineWidth: 1},
          border: {display: true, color: AXIS, width: 1},
          afterFit(s) { s.width = PADL; }
        }
      }
    }
  });
}

const cols = [[149, 385], [443, 679], [788, 1007], [1066, 1285]];
const rowsS = [[62, 272], [340, 549], [620, 830], [901, 1111]];
const rowsE = [[62, 271], [339, 548], [620, 829], [898, 1107]];
const R = (c, r) => [c[0], c[1], r[0], r[1]];

const trainEsts = [anfisTrainEst, annTrainEst, rfTrainEst];
const validEsts = [anfisValidEst, annValidEst, rfValidEst];
const trainFits = [anfisTrainFit, annTrainFit, rfTrainFit];
const validFits = [anfisValidFit, annValidFit, rfValidFit];
const trainErrs = [anfisTrainErr, annTrainErr, rfTrainErr];
const validErrs = [anfisValidErr, annValidErr, rfValidErr];

for (let i = 0; i < 3; i++) {
  addPanel(R(cols[0], rowsS[i]), {points: toPts(trainObs, trainEsts[i]), fit: trainFits[i], identity: oneToOne16, xTicks: scatterTicks16, yTicks: scatterTicks16});
  addPanel(R(cols[1], rowsS[i]), {points: toPts(validObs, validEsts[i]), fit: validFits[i], identity: oneToOne16, xTicks: scatterTicks16, yTicks: scatterTicks16});
  addPanel(R(cols[2], rowsE[i]), {points: pairPts(trainErrs[i]), zero: zeroLine16, xTicks: scatterTicks16, yTicks: errorTicks});
  addPanel(R(cols[3], rowsE[i]), {points: pairPts(validErrs[i]), zero: zeroLine16, xTicks: scatterTicks16, yTicks: errorTicks});
}
addPanel(R(cols[0], rowsS[3]), {points: toPts(nlmTrainObs, nlmTrainEst), fit: nlmTrainFit, identity: oneToOne16, xTicks: scatterTicks16, yTicks: scatterTicks16});
addPanel(R(cols[1], [899, 1108]), {points: toPts(nlmValidObs, nlmValidEst), fit: nlmValidFit, identity: oneToOne12, xTicks: scatterTicks12, yTicks: scatterTicks12});
addPanel(R(cols[2], rowsE[3]), {points: pairPts(nlmTrainErr), zero: zeroLine16, xTicks: scatterTicks16, yTicks: errorTicks});
addPanel(R([1066, 1282], rowsE[3]), {points: pairPts(nlmValidErr), zero: zeroLine12, xTicks: scatterTicks12, yTicks: errorTicks});
</script>
</body>
</html>
